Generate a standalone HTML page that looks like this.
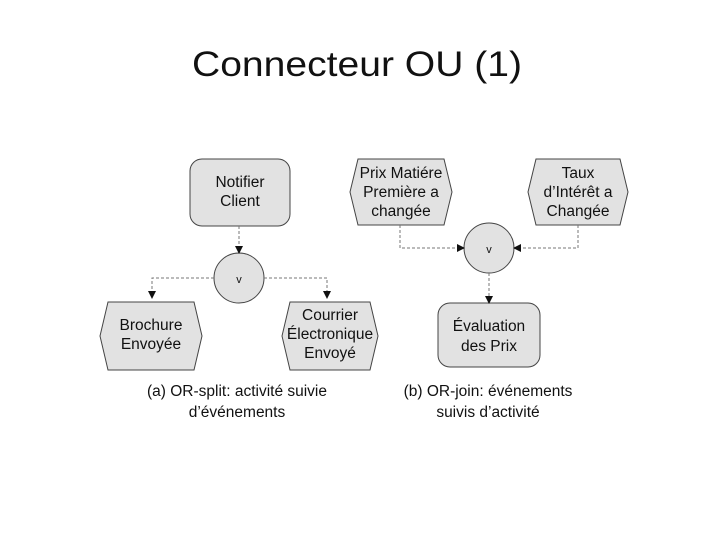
<!DOCTYPE html>
<html><head><meta charset="utf-8"><style>
html,body{margin:0;padding:0;background:#fff;width:720px;height:540px;overflow:hidden}
svg text{font-family:"Liberation Sans",Arial,sans-serif;fill:#111}
</style></head><body>
<svg width="720" height="540" viewBox="0 0 720 540" xmlns="http://www.w3.org/2000/svg">
<defs><marker id="ar" markerWidth="8" markerHeight="8" refX="7" refY="4" orient="auto" markerUnits="userSpaceOnUse"><path d="M0,0 L8,4 L0,8 Z" fill="#111"/></marker></defs>
<text x="357" y="76" font-size="35" text-anchor="middle" textLength="330" lengthAdjust="spacingAndGlyphs">Connecteur OU (1)</text>
<g stroke="#444" stroke-width="1" fill="#e2e2e2">
<rect x="190" y="159" width="100" height="67" rx="12"/>
<polygon points="108,302 194,302 202,336 194,370 108,370 100,336"/>
<polygon points="290,302 370,302 378,336 370,370 290,370 282,336"/>
<polygon points="358,159 444,159 452,192 444,225 358,225 350,192"/>
<polygon points="536,159 620,159 628,192 620,225 536,225 528,192"/>
<rect x="438" y="303" width="102" height="64" rx="12"/>
<circle cx="239" cy="278" r="25"/>
<circle cx="489" cy="248" r="25"/>
</g>
<g stroke="#777" stroke-width="1" fill="none" stroke-dasharray="3,2">
<path d="M239,226 V253" marker-end="url(#ar)"/>
<path d="M214,278 H152 V298" marker-end="url(#ar)"/>
<path d="M264,278 H327 V298" marker-end="url(#ar)"/>
<path d="M400,225 V248 H464" marker-end="url(#ar)"/>
<path d="M578,225 V248 H514" marker-end="url(#ar)"/>
<path d="M489,273 V303" marker-end="url(#ar)"/>
</g>
<g font-size="15.5" text-anchor="middle">
<text x="240" y="187">Notifier</text><text x="240" y="206">Client</text>
<text x="151" y="330">Brochure</text><text x="151" y="349">Envoyée</text>
<text x="330" y="320">Courrier</text><text x="330" y="339">Électronique</text><text x="330" y="358">Envoyé</text>
<text x="401" y="178">Prix Matiére</text><text x="401" y="197">Première a</text><text x="401" y="216">changée</text>
<text x="578" y="178">Taux</text><text x="578" y="197">d’Intérêt a</text><text x="578" y="216">Changée</text>
<text x="489" y="331">Évaluation</text><text x="489" y="351">des Prix</text>
<text x="239" y="283" font-size="11">v</text>
<text x="489" y="253" font-size="11">v</text>
<text x="237" y="396">(a) OR-split: activité suivie</text><text x="237" y="417">d’événements</text>
<text x="488" y="396">(b) OR-join: événements</text><text x="488" y="417">suivis d’activité</text>
</g>
</svg>
</body></html>
